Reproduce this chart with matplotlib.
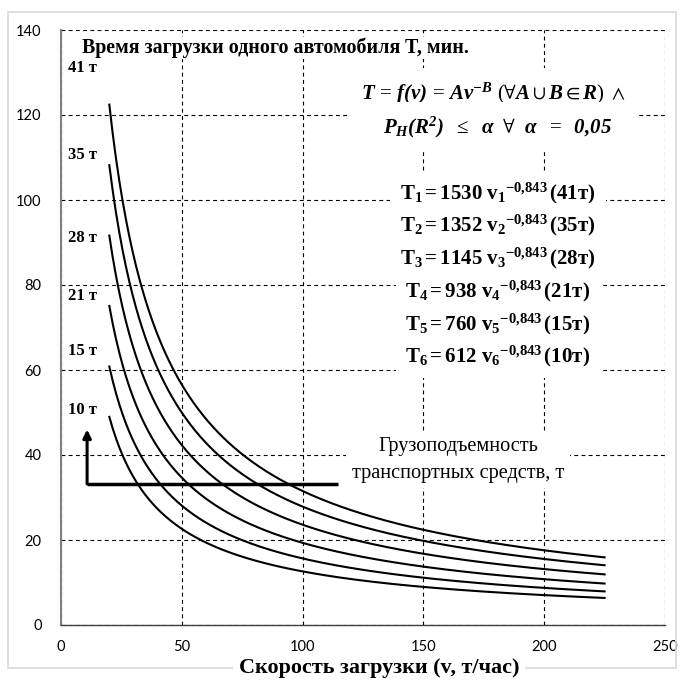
import numpy as np
import matplotlib
matplotlib.use("Agg")
import matplotlib.pyplot as plt
from matplotlib.patches import Rectangle

plt.rcParams['mathtext.fontset'] = 'custom'
plt.rcParams['mathtext.rm'] = 'Liberation Serif'
plt.rcParams['mathtext.it'] = 'Liberation Serif:italic'
plt.rcParams['mathtext.bf'] = 'Liberation Serif:bold'
plt.rcParams['mathtext.bfit'] = 'Liberation Serif:italic:bold'
plt.rcParams['mathtext.fallback'] = 'stix'

# Data: power-law model T = A * v^(-B), coefficients shown on the chart
capacities = ["41 т", "35 т", "28 т", "21 т", "15 т", "10 т"]
cap_short = ["41т", "35т", "28т", "21т", "15т", "10т"]
A_coef = [1530, 1352, 1145, 938, 760, 612]
B_coef = 0.843
v_min, v_max = 20, 225
label_y = [131.0, 110.5, 91.0, 77.5, 64.5, 50.5]

x_ticks = [0, 50, 100, 150, 200, 250]
y_ticks = [0, 20, 40, 60, 80, 100, 120, 140]

W, H = 684, 682
fig = plt.figure(figsize=(W / 100, H / 100), dpi=100)

def fx(px):
    return px / W

def fy(py):
    return 1 - py / H

# outer chart border
fig.patches.append(Rectangle((fx(8), fy(668)), fx(676) - fx(8), fy(12) - fy(668),
                             transform=fig.transFigure, fill=False,
                             edgecolor='#d9d9d9', linewidth=1.2, zorder=0))

ax = fig.add_axes([fx(61), fy(625), fx(665) - fx(61), fy(30) - fy(625)])
ax.set_xlim(0, 250)
ax.set_ylim(0, 140)
ax.set_xticks(x_ticks)
ax.set_yticks(y_ticks)
ax.grid(True, color='black', linestyle=(0, (3.5, 3)), linewidth=0.8)
ax.set_axisbelow(True)
for s in ['top', 'right']:
    ax.spines[s].set_visible(False)
ax.spines['left'].set_color('#808080')
ax.spines['left'].set_linewidth(1.5)
ax.spines['bottom'].set_color('#404040')
ax.spines['bottom'].set_linewidth(1.0)
ax.tick_params(length=0, labelsize=10.5)
ax.tick_params(axis='x', pad=11)
ax.tick_params(axis='y', pad=14)
for lab in ax.get_xticklabels() + ax.get_yticklabels():
    lab.set_fontfamily('Lato')

v = np.linspace(v_min, v_max, 300)
for a, lbl, ly in zip(A_coef, capacities, label_y):
    ax.plot(v, a * v ** (-B_coef), color='black', linewidth=1.5, zorder=3)
    ax.text(3, ly, lbl, fontfamily='Liberation Serif', fontweight='bold',
            fontsize=12, ha='left', va='center')

# capacity arrow
ax.annotate('', xy=(10.8, 46), xytext=(10.8, 33.2),
            arrowprops=dict(arrowstyle='-|>', color='black', lw=2.2,
                            mutation_scale=12, shrinkA=0, shrinkB=0))
ax.plot([10.8, 114.5], [33.2, 33.2], color='black', linewidth=2.5,
        solid_capstyle='butt', zorder=4)

serif = 'Liberation Serif'

fig.text(fx(275), fy(48), 'Время загрузки одного автомобиля T, мин.',
         fontfamily=serif, fontweight='bold', fontsize=14.4,
         ha='center', va='center',
         bbox=dict(facecolor='white', edgecolor='none', pad=0.5))

fig.text(fx(494), fy(94),
         r'$\mathbfit{T}\,=\,\mathbfit{f(v)}\,=\,\mathbfit{Av}^{\mathbfit{-B}}\ '
         r'(\forall\mathbfit{A}\cup\mathbfit{B}\in\mathbfit{R})\ \wedge$',
         fontsize=15, ha='center', va='center',
         bbox=dict(facecolor='white', edgecolor='none', pad=9))
fig.text(fx(497), fy(127),
         r'$\mathbfit{P_H}\mathbfit{(R^2)}\ \ \leq\ \ \mathbfit{\alpha}\ \ \forall\ \ '
         r'\mathbfit{\alpha}\ \ =\ \ \mathbfit{0{,}05}$',
         fontsize=15, ha='center', va='center',
         bbox=dict(facecolor='white', edgecolor='none', pad=9))

eq_y = [193, 225, 258, 291, 324, 356]
for i, (a, cs, yy) in enumerate(zip(A_coef, cap_short, eq_y), start=1):
    s = (r'$\mathbf{T_{%d}=%d\ v_{%d}{}^{-0{,}843}\,(%s)}$' % (i, a, i, cs))
    fig.text(fx(498), fy(yy), s, fontsize=15, ha='center', va='center',
             bbox=dict(facecolor='white', edgecolor='none', pad=7))

fig.text(fx(458), fy(460), 'Грузоподъемность\nтранспортных средств, т',
         fontfamily=serif, fontsize=14.6, ha='center', va='center',
         linespacing=1.55,
         bbox=dict(facecolor='white', edgecolor='none', pad=4))

fig.text(fx(379), fy(668), 'Скорость загрузки (v, т/час)',
         fontfamily=serif, fontweight='bold', fontsize=15.9,
         ha='center', va='center',
         bbox=dict(facecolor='white', edgecolor='none', pad=4))

fig.savefig('out.png', dpi=100)
